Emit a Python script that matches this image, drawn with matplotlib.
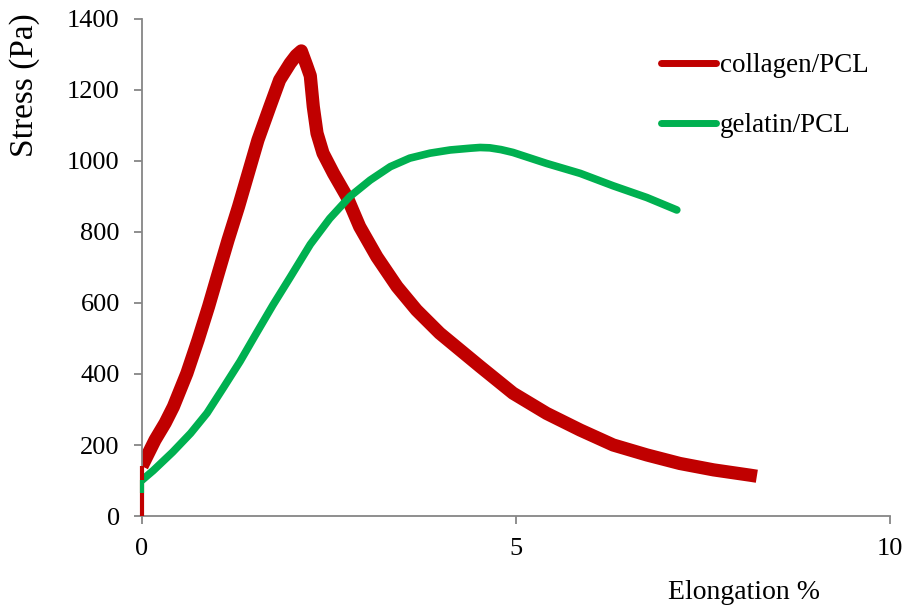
import matplotlib
matplotlib.use("Agg")
import matplotlib.pyplot as plt

# Stress-elongation curves (elongation in %, stress in Pa)
collagen_x = [0.0, 0.0, 0.063, 0.174, 0.31, 0.42, 0.51, 0.60, 0.75, 0.89, 1.02, 1.15,
              1.29, 1.42, 1.55, 1.71, 1.84, 1.98, 2.06, 2.13, 2.20, 2.25, 2.29, 2.34,
              2.42, 2.56, 2.74, 2.91, 3.14, 3.41, 3.67, 3.98, 4.52, 4.96, 5.41, 5.86,
              6.30, 6.75, 7.19, 7.64, 8.13, 8.22]
collagen_y = [0, 140, 167, 214, 262, 308, 355, 402, 496, 590, 684, 777,
              871, 965, 1059, 1153, 1228, 1275, 1297, 1310, 1270, 1240, 1153, 1078,
              1022, 965, 899, 815, 730, 646, 580, 515, 421, 346, 289, 242,
              200, 172, 148, 130, 115, 112]

gelatin_x = [0.0, 0.0, 0.15, 0.41, 0.65, 0.87, 1.09, 1.31, 1.53, 1.75, 1.98, 2.25,
             2.51, 2.78, 3.05, 3.32, 3.58, 3.85, 4.12, 4.39, 4.52, 4.65, 4.80, 4.96,
             5.41, 5.86, 6.30, 6.75, 7.15]
gelatin_y = [65, 101, 128, 180, 233, 290, 362, 435, 515, 594, 672, 765,
             838, 900, 946, 984, 1008, 1022, 1031, 1036, 1038, 1037, 1032, 1024,
             993, 965, 930, 897, 862]

series_names = ["collagen/PCL", "gelatin/PCL"]
x_ticks = [0, 5, 10]
y_ticks = [0, 200, 400, 600, 800, 1000, 1200, 1400]

RED = "#C00000"
GREEN = "#00B050"

plt.rcParams["font.family"] = ["Liberation Serif", "DejaVu Serif"]

fig = plt.figure(figsize=(9.05, 6.08), dpi=100)
ax = fig.add_axes([0.1569, 0.1513, 0.8265, 0.8175])

# the initial vertical jump at zero elongation is a thin trace over the axis line
ax.plot(collagen_x[:2], collagen_y[:2], color=RED, lw=3, solid_capstyle="butt",
        clip_on=False, zorder=3)
ax.plot(collagen_x[1:], collagen_y[1:], color=RED, lw=9.5, solid_capstyle="butt",
        solid_joinstyle="round")
ax.plot(gelatin_x[:2], gelatin_y[:2], color=GREEN, lw=3, solid_capstyle="butt",
        clip_on=False, zorder=3)
ax.plot(gelatin_x[1:], gelatin_y[1:], color=GREEN, lw=5.5, solid_capstyle="round",
        solid_joinstyle="round")

# legend entries
ax.plot([], [], color=RED, lw=5, solid_capstyle="round", label=series_names[0])
ax.plot([], [], color=GREEN, lw=5, solid_capstyle="round", label=series_names[1])

ax.set_xlim(0, 10)
ax.set_ylim(0, 1400)
ax.set_xticks(x_ticks)
ax.set_yticks(y_ticks)

for side in ("top", "right"):
    ax.spines[side].set_visible(False)
for side in ("left", "bottom"):
    ax.spines[side].set_color("#868686")
    ax.spines[side].set_linewidth(1.3)
ax.tick_params(axis="both", direction="out", length=6, width=1.3, color="#868686",
               labelsize=19, pad=10)

ax.set_ylabel("Stress (Pa)", fontsize=24)
ax.yaxis.set_label_coords(-0.137, 0.867)
ax.set_xlabel("Elongation %", fontsize=20)
ax.xaxis.set_label_coords(0.805, -0.128)

ax.legend(loc="upper left", bbox_to_anchor=(0.68, 0.953), frameon=False,
          fontsize=19.5, handlelength=2.0, handletextpad=0.15, labelspacing=1.3,
          borderaxespad=0)

fig.savefig("out.png", dpi=100)
